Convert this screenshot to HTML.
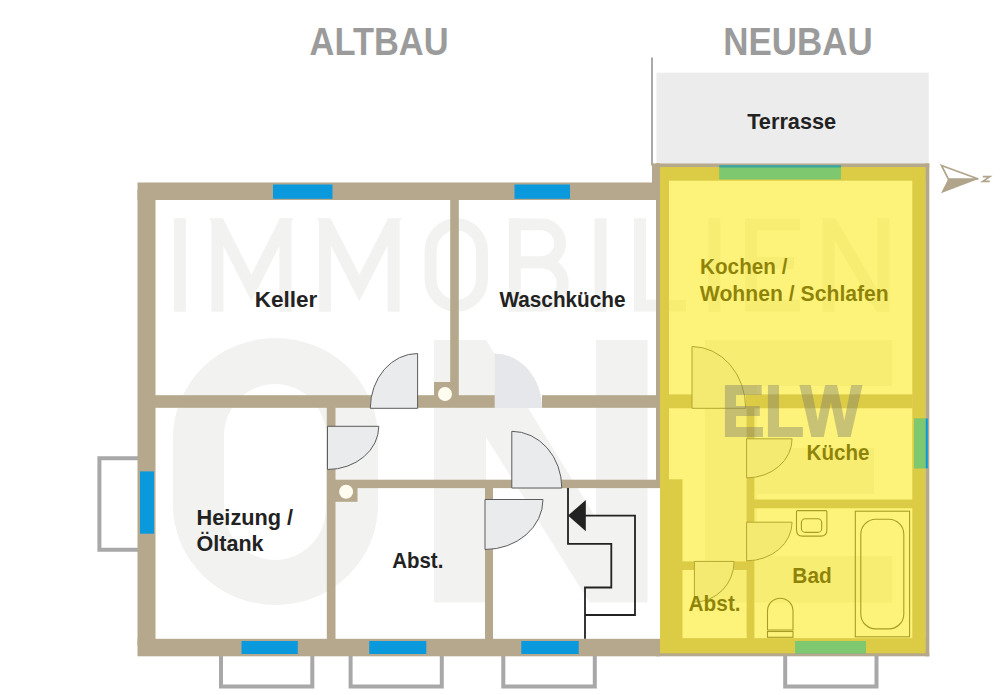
<!DOCTYPE html>
<html><head><meta charset="utf-8">
<style>
html,body{margin:0;padding:0;background:#fff;}
body{width:1000px;height:695px;overflow:hidden;font-family:"Liberation Sans",sans-serif;}
svg{display:block;}
text{font-family:"Liberation Sans",sans-serif;font-weight:bold;}
</style></head><body>
<svg width="1000" height="695" viewBox="0 0 1000 695">
<rect width="1000" height="695" fill="#ffffff"/>

<!-- watermark -->
<g id="wm" fill="#f2f2f0">
  <clipPath id="wmc"><rect x="160" y="218.2" width="760" height="93.6"/></clipPath>
  <g fill="none" stroke="#f2f2f0" stroke-width="12" clip-path="url(#wmc)">
    <path d="M179.9 210 V320 M600.6 210 V320 M714.4 210 V320"/>
    <path d="M217.4 320 V210 M285.4 320 V210 M213 212 L251.4 288 L289.8 212"/>
    <path d="M325 320 V210 M393.6 320 V210 M320.6 212 L359.3 288 L398 212"/>
    <rect x="430.6" y="224.2" width="51.4" height="81.6" rx="25.7" ry="27"/>
    <path d="M514.8 210 V320 M514.8 224.2 H541 A19 19 0 0 1 541 262.2 H514.8 M541 262.2 A21.8 21.8 0 0 1 541 305.8 H514.8"/>
    <path d="M640 210 V305.8 H686"/>
    <path d="M800 224.2 H751 V305.8 H800 M751 263 H794"/>
    <path d="M828.7 320 V210 M883.3 320 V210 M825 212 L887 318"/>
  </g>
  <path fill-rule="evenodd" d="M173 438 A102.5 100 0 0 1 378 438 L378 505 A102.5 100 0 0 1 173 505 Z M224 436 A51 52 0 0 1 326 436 L326 508 A51 52 0 0 1 224 508 Z"/>
  <path d="M434 340 L486 340 L596 518 L596 340 L647.5 340 L647.5 602.5 L589.5 602.5 L486 437 L486 602.5 L434 602.5 Z"/>
  <path d="M705 340 L892 340 L892 386 L757 386 L757 448 L874 448 L874 494 L757 494 L757 556 L892 556 L892 602.5 L705 602.5 Z"/>
</g>

<!-- terrace -->
<rect x="656.5" y="72.7" width="272.2" height="90.5" fill="#ececec"/>
<rect x="651" y="57.5" width="2" height="108" fill="#aaaaaa"/>

<!-- walls -->
<g id="walls" fill="#b5a88c">
  <!-- Altbau -->
  <rect x="137.5" y="182.5" width="522.5" height="17.5"/>
  <rect x="137.5" y="190" width="18" height="456"/>
  <rect x="137.5" y="638.8" width="522.5" height="17.5"/>
  <rect x="155" y="395.2" width="340" height="12.6"/>
  <rect x="542" y="395.2" width="118" height="12.6"/>
  <rect x="450.2" y="199" width="8.6" height="197"/>
  <rect x="434" y="382" width="17" height="14"/>
  <rect x="326.8" y="407" width="8.7" height="233"/>
  <rect x="335" y="479.7" width="325" height="8.4"/>
  <rect x="335" y="480" width="22.5" height="21.8"/>
  <rect x="485" y="487" width="8" height="153"/>
  <rect x="656" y="163.4" width="4" height="324.6"/>
  <rect x="652" y="163.4" width="8" height="36.6"/>
  <!-- Neubau outer outline -->
  <rect x="656" y="163.4" width="273.3" height="3.8"/>
  <rect x="925.3" y="163.4" width="4" height="492.9"/>
  <rect x="656" y="653" width="273.3" height="3.3"/>
  <!-- Neubau walls -->
  <rect x="660" y="167" width="265.5" height="13.7"/>
  <rect x="660" y="167" width="9" height="313"/>
  <rect x="660" y="479.3" width="22.5" height="174"/>
  <rect x="912.3" y="167" width="13.2" height="486.3"/>
  <rect x="660" y="638.2" width="265.5" height="15.1"/>
  <rect x="668" y="394.4" width="24" height="13.9"/>
  <rect x="745.7" y="394.4" width="167" height="13.9"/>
  <rect x="746.6" y="408" width="7.8" height="30.8"/>
  <rect x="746.6" y="477.9" width="7.8" height="44.3"/>
  <rect x="746.6" y="560.8" width="7.8" height="78"/>
  <rect x="754" y="499.5" width="159" height="8.8"/>
  <rect x="682" y="561.4" width="12.4" height="8.6"/>
  <rect x="734.1" y="561.4" width="13" height="8.6"/>
</g>

<!-- chimney circles -->
<circle cx="445" cy="394" r="7" fill="#fffcf0"/>
<circle cx="346.1" cy="491.8" r="7" fill="#fffcf0"/>

<!-- windows -->
<g fill="#0b99dd">
  <rect x="273" y="184.5" width="59.5" height="14.3"/>
  <rect x="514.5" y="184.5" width="55.5" height="14.3"/>
  <rect x="140" y="471.4" width="14" height="62.3"/>
  <rect x="241.5" y="641" width="56.3" height="13"/>
  <rect x="369.2" y="641" width="57.1" height="13"/>
  <rect x="521.3" y="641" width="57.4" height="13"/>
  <rect x="719.4" y="165.5" width="121.6" height="13.8"/>
  <rect x="914" y="418.5" width="13.8" height="49.8"/>
  <rect x="795" y="641" width="71" height="12.3"/>
</g>

<!-- light shafts -->
<g fill="none" stroke="#a8a8a8" stroke-width="4">
  <path d="M138 458.3 L99.4 458.3 L99.4 549.7 L138 549.7"/>
  <path d="M221 656 L221 686.5 L312.3 686.5 L312.3 656"/>
  <path d="M350.6 656 L350.6 686.5 L441.8 686.5 L441.8 656"/>
  <path d="M503.3 656 L503.3 686.5 L594.8 686.5 L594.8 656"/>
  <path d="M785.2 656 L785.2 686.5 L876.5 686.5 L876.5 656"/>
</g>

<!-- doors -->
<g fill="#eaebed" stroke="#5c5c5c" stroke-width="1">
  <path d="M417.6 408.3 L417.6 353.5 A47.3 55 0 0 0 370.3 408.3 Z"/>
  <path d="M327.5 426.3 L378.8 426.3 A51.3 43.2 0 0 1 327.5 469.5 Z"/>
  <path d="M511.8 488 L511.8 431.3 A50 56.7 0 0 1 561.8 488 Z"/>
  <path d="M485 499.5 L543 499.5 A58 50 0 0 1 485 549.5 Z"/>
  <path d="M692 408.3 L692 346.5 A53.7 61.8 0 0 1 745.7 408.3 Z"/>
  <path d="M746.6 438.8 L792.1 438.8 A45.5 39.1 0 0 1 746.6 477.9 Z"/>
  <path d="M746.6 522.2 L792.1 522.2 A45.5 38.6 0 0 1 746.6 560.8 Z"/>
  <path d="M694.4 561.4 L734.1 561.4 A39.7 40.6 0 0 1 694.4 602 Z"/>
</g>
<path d="M494.7 408 L494.7 353.6 A47.3 54.4 0 0 1 542 408 Z" fill="#e6e7ea"/>

<!-- fixtures -->
<g fill="none" stroke="#444444" stroke-width="1.1">
  <path d="M797.5 510.6 H825.9 Q826.9 510.6 826.9 511.6 V530 Q826.9 536.1 820.8 536.1 H802.6 Q796.5 536.1 796.5 530 V511.6 Q796.5 510.6 797.5 510.6 Z"/>
  <rect x="801.4" y="518.7" width="20.3" height="13.7" rx="4"/>
  <rect x="855.3" y="511.2" width="54.3" height="125.6"/>
  <rect x="860.8" y="519.3" width="43" height="109.6" rx="15"/>
  <path d="M767.5 630 L767.5 611 A12.75 12.8 0 0 1 793 611 L793 630 Z"/>
  <rect x="767.5" y="631.5" width="25.5" height="5.8"/>
</g>

<!-- stairs -->
<g fill="none" stroke="#222222" stroke-width="1.8">
  <path d="M568 488 L568 543.9 L611.3 543.9 L611.3 587.5 L585 587.5 L585 638.8"/>
  <path d="M585 515.6 L635 515.6 L635 615 L585 615"/>
</g>
<path d="M568 515.6 L585.8 500 L585.8 531.2 Z" fill="#222222"/>

<!-- north arrow -->
<path d="M978.4 179 L941.5 165.5 L948.2 179 Z" fill="none" stroke="#b0a48a" stroke-width="1.7"/>
<path d="M978.4 179 L941 193.2 L948.2 179 Z" fill="#b0a48a"/>
<path d="M982.8 176.6 L989.8 176.6 L982.8 181.3 L989.8 181.3" fill="none" stroke="#b0a48a" stroke-width="1.7"/>

<!-- headings -->
<g fill="#9b9b9b" font-size="38.5">
  <text x="309.6" y="54.6" textLength="139" lengthAdjust="spacingAndGlyphs">ALTBAU</text>
  <text x="723.2" y="54.6" textLength="149.5" lengthAdjust="spacingAndGlyphs">NEUBAU</text>
</g>

<!-- labels -->
<g fill="#222222" font-size="22">
  <text x="747.2" y="129.3" textLength="89" lengthAdjust="spacingAndGlyphs">Terrasse</text>
  <text x="254.8" y="307.2" textLength="62.5" lengthAdjust="spacingAndGlyphs">Keller</text>
  <text x="499.5" y="307.2" textLength="126" lengthAdjust="spacingAndGlyphs">Waschküche</text>
  <text x="196.6" y="524.5" textLength="96.5" lengthAdjust="spacingAndGlyphs">Heizung /</text>
  <text x="196.6" y="551.4" textLength="67" lengthAdjust="spacingAndGlyphs">Öltank</text>
  <text x="392.3" y="567.5" textLength="51" lengthAdjust="spacingAndGlyphs">Abst.</text>
  </g>
<g fill="#0c0c0c" font-size="22">
  <text x="700" y="274.1" textLength="87.5" lengthAdjust="spacingAndGlyphs">Kochen /</text>
  <text x="699.8" y="301.4" textLength="189" lengthAdjust="spacingAndGlyphs">Wohnen / Schlafen</text>
  <text x="806.6" y="459.6" textLength="63" lengthAdjust="spacingAndGlyphs">Küche</text>
  <text x="792.3" y="582.5" textLength="39.5" lengthAdjust="spacingAndGlyphs">Bad</text>
  <text x="688.6" y="611.2" textLength="52" lengthAdjust="spacingAndGlyphs">Abst.</text>
</g>

<!-- yellow overlay -->
<rect x="660" y="167" width="265.5" height="486.3" fill="#fde909" fill-opacity="0.54"/>
<g fill="#7ec86f">
  <rect x="719.4" y="167.3" width="121.6" height="12"/>
  <rect x="914" y="418.5" width="11.5" height="49.8"/>
  <rect x="795" y="641" width="71" height="12.3"/>
</g>

<rect x="719.4" y="165.6" width="121.6" height="1.9" fill="#35a79c"/>
<!-- ELW -->
<text x="721.5" y="435.5" font-size="71.5" fill="#7a7a70" stroke="#7a7a70" stroke-width="2" stroke-linejoin="miter" opacity="0.4" textLength="140" lengthAdjust="spacingAndGlyphs">ELW</text>
</svg>
</body></html>
